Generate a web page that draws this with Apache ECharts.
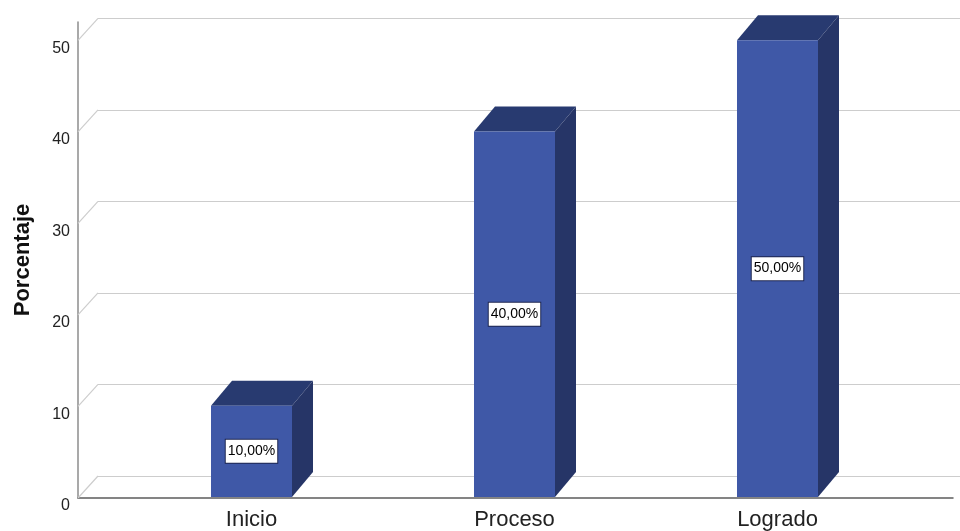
<!DOCTYPE html>
<html><head><meta charset="utf-8">
<script src="https://cdn.jsdelivr.net/npm/echarts@6/dist/echarts.min.js"></script>
<style>html,body{margin:0;padding:0;background:#fff}#c{width:960px;height:531px}</style>
</head><body><div id="c"></div>
<script>
const categories = ['Inicio', 'Proceso', 'Logrado'];
const percentages = [10, 40, 50];
const yTicks = [0, 10, 20, 30, 40, 50];
const yName = 'Porcentaje';
const yMax = 52;

const WALL_DX = 20, WALL_DY = -22;
const BAR_DX = 21, BAR_DY = -25;
const FONT = '"Liberation Sans", Arial, sans-serif';

const chart = echarts.init(document.getElementById('c'), null, { renderer: 'canvas' });
const fmt = v => v.toFixed(2).replace('.', ',') + '%';

const option = {
  animation: false,
  backgroundColor: '#fff',
  grid: [
    { left: 78, right: 7, top: 22, bottom: 33 },
    { left: 98, right: 0, top: 18.3, bottom: 55 },
    { left: 120, right: 51, top: 22, bottom: 33 }
  ],
  xAxis: [
    { gridIndex: 0, type: 'value', min: 0, max: 1,
      axisLine: { show: true, onZero: false, lineStyle: { color: '#5c5c5c', width: 1.5 } },
      axisLabel: { show: false }, axisTick: { show: false }, splitLine: { show: false } },
    { gridIndex: 1, type: 'value', min: 0, max: 1, show: false },
    { gridIndex: 2, type: 'category', data: categories,
      axisLine: { show: false }, axisTick: { show: false }, splitLine: { show: false },
      axisLabel: { fontSize: 22, color: '#222', margin: 12, fontFamily: FONT } }
  ],
  yAxis: [
    { gridIndex: 0, type: 'value', min: 0, max: yMax, interval: 10,
      axisLine: { show: true, lineStyle: { color: '#8c8c8c', width: 1.5 } },
      axisTick: { show: false }, splitLine: { show: false },
      axisLabel: { fontSize: 16, color: '#222', margin: 8, verticalAlign: 'top', fontFamily: FONT,
        formatter: v => yTicks.includes(v) ? String(v) : '' },
      name: yName, nameLocation: 'middle', nameGap: 44, nameRotate: 90,
      nameTextStyle: { fontSize: 22, fontWeight: 'bold', color: '#111', fontFamily: FONT } },
    { gridIndex: 1, type: 'value', min: 0, max: 50, interval: 10,
      axisLine: { show: false }, axisTick: { show: false }, axisLabel: { show: false },
      splitLine: { show: true, lineStyle: { color: '#cdcdcd', width: 1.2 } } },
    { gridIndex: 2, type: 'value', min: 0, max: yMax, show: false }
  ],
  series: [
    { type: 'custom', xAxisIndex: 0, yAxisIndex: 0, clip: false, z: 1,
      data: yTicks.map(v => [0, v]),
      renderItem(params, api) {
        const p = api.coord([0, api.value(1)]);
        return { type: 'line', shape: { x1: p[0], y1: p[1], x2: p[0] + WALL_DX, y2: p[1] + WALL_DY },
          style: { stroke: '#cdcdcd', lineWidth: 1.2 } };
      } },
    { type: 'custom', xAxisIndex: 2, yAxisIndex: 2, clip: false, z: 5,
      data: categories.map((c, i) => [i, percentages[i]]),
      encode: { x: 0, y: 1 },
      renderItem(params, api) {
        const x = api.value(0), v = api.value(1);
        const top = api.coord([x, v]), base = api.coord([x, 0]);
        const w = api.size([1, 0])[0] * 0.308;
        const l = top[0] - w / 2, r = top[0] + w / 2, t = top[1], b = base[1];
        return { type: 'group', children: [
          { type: 'polygon', shape: { points: [[l, t], [l + BAR_DX, t + BAR_DY], [r + BAR_DX, t + BAR_DY], [r, t]] },
            style: { fill: '#283a70' } },
          { type: 'polygon', shape: { points: [[r, t], [r + BAR_DX, t + BAR_DY], [r + BAR_DX, b + BAR_DY], [r, b]] },
            style: { fill: '#263567' } },
          { type: 'rect', shape: { x: l, y: t, width: r - l, height: b - t }, style: { fill: '#3f58a7' } },
          { type: 'text', x: (l + r) / 2, y: (t + b) / 2,
            style: { text: fmt(v), fill: '#000', font: '14px ' + FONT, align: 'center', verticalAlign: 'middle',
              backgroundColor: '#fff', borderColor: '#1c2550', borderWidth: 1, padding: [5, 2, 4, 2] } }
        ] };
      } }
  ]
};
chart.setOption(option);
</script>
</body></html>
